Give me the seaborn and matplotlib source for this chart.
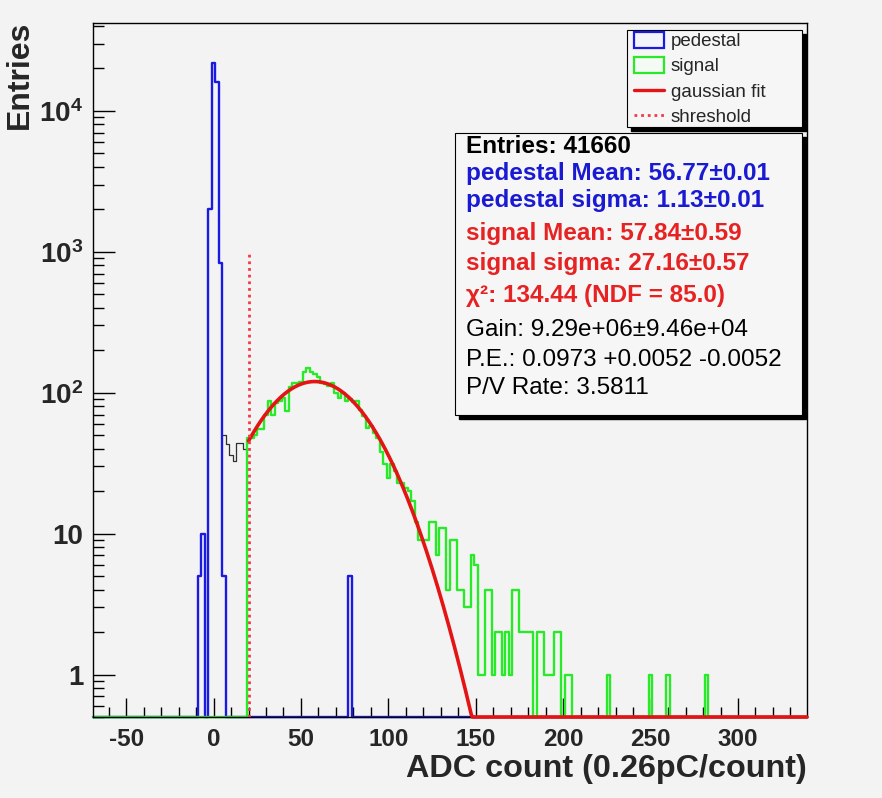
import numpy as np
import seaborn as sns
import matplotlib.pyplot as plt
from matplotlib.patches import Patch, Rectangle
from matplotlib.lines import Line2D
from matplotlib.ticker import MultipleLocator, LogLocator, NullFormatter

# ---- values (x = ADC count, pedestal subtracted) ----
bin_width = 2
x_lo, x_hi = -69, 339
y_floor, y_top = 0.5, 42000

# pedestal histogram (blue): lower bin edge -> entries
pedestal_start = [-9, -7, -3, -1, 1, 3, 5, 77]
pedestal_counts = [5, 10, 2000, 22000, 16000, 830, 5, 5]

# total spectrum in the valley between pedestal and threshold (thin black)
valley_start = [5, 7, 9, 11, 13, 15, 17]
valley_counts = [50, 43, 36, 33, 44, 44, 40]

# signal histogram (green): contiguous bins starting at 19, then a few lone tail entries
signal_first = 19
signal_counts = [48, 48, 50, 55, 55, 70, 88, 70, 85, 88, 92, 74, 110, 117, 118, 120,
                 140, 150, 140, 136, 130, 118, 116, 112, 118, 100, 92, 100, 88, 90, 86,
                 88, 75, 68, 56, 58, 52, 48, 38, 31, 25, 31, 28, 23, 23, 21, 20, 17,
                 12, 9, 9, 9, 12, 12, 7, 11, 11, 4, 9, 9, 4, 4, 3, 3, 7, 6, 1, 1, 4,
                 4, 1, 2, 2, 1, 2, 1, 4, 4, 2, 2, 2, 2, 0, 2, 2, 1, 1, 1, 2, 2, 0, 1, 1]
signal_tail_start = [225, 249, 259, 281]
signal_tail_counts = [1, 1, 1, 1]

# gaussian fit of the signal and the threshold cut
fit_amp, fit_mean, fit_sigma = 120, 57.84, 27.16
threshold, threshold_top = 20, 1000

y_ticks = [1, 10, 100, 1000, 10000]
y_tick_labels = ["1", "10", r"$\mathbf{10^{2}}$", r"$\mathbf{10^{3}}$", r"$\mathbf{10^{4}}$"]

legend_labels = ["pedestal", "signal", "gaussian fit", "shreshold"]
stats_lines = [
    ("Entries: 41660", "black", "bold"),
    ("pedestal Mean: 56.77±0.01", "#1a1ad2", "bold"),
    ("pedestal sigma: 1.13±0.01", "#1a1ad2", "bold"),
    ("signal Mean: 57.84±0.59", "#e62222", "bold"),
    ("signal sigma: 27.16±0.57", "#e62222", "bold"),
    ("χ²: 134.44 (NDF = 85.0)", "#e62222", "bold"),
    ("Gain: 9.29e+06±9.46e+04", "black", "normal"),
    ("P.E.: 0.0973 +0.0052 -0.0052", "black", "normal"),
    ("P/V Rate: 3.5811", "black", "normal"),
]

BLUE, GREEN, RED, BG = "#1a1ae0", "#28ea28", "#e41414", "#f3f3f3"

edges = np.arange(x_lo, x_hi + bin_width, bin_width)
centers = edges[:-1] + bin_width / 2


def full_hist(starts, counts):
    h = np.zeros(len(centers))
    idx = ((np.asarray(starts) - x_lo) // bin_width).astype(int)
    h[idx] = counts
    return h


def shadow_box(x0, y0, w, h, z):
    # ROOT-style pave: black drop shadow to the lower right, then the box itself
    ax.add_patch(Rectangle((x0 + 0.006, y0 - 0.006), w, h, transform=ax.transAxes,
                           facecolor="black", edgecolor="black", zorder=z))
    ax.add_patch(Rectangle((x0, y0), w, h, transform=ax.transAxes,
                           facecolor="#f6f6f6", edgecolor="black", linewidth=0.8, zorder=z + 0.1))


pedestal = full_hist(pedestal_start, pedestal_counts)
signal = full_hist(list(range(signal_first, signal_first + bin_width * len(signal_counts), bin_width))
                   + signal_tail_start, signal_counts + signal_tail_counts)

sns.set_style("ticks")
plt.rcParams["font.family"] = ["Liberation Sans", "DejaVu Sans"]
plt.rcParams["axes.unicode_minus"] = False
plt.rcParams["mathtext.fontset"] = "custom"
plt.rcParams["mathtext.rm"] = "Liberation Sans"
plt.rcParams["mathtext.bf"] = "Liberation Sans:bold"

fig = plt.figure(figsize=(8.82, 7.98), dpi=100, facecolor=BG)
ax = fig.add_axes([0.1054, 0.1015, 0.8096, 0.8697])
ax.set_facecolor(BG)

# empty bins are drawn along the frame bottom, like ROOT does on a log axis
valley_edges = valley_start + [valley_start[-1] + bin_width]
sns.histplot(x=np.array(valley_start) + bin_width / 2, weights=valley_counts, bins=valley_edges,
             element="step", fill=False, color="#303030", linewidth=0.9, ax=ax)
sns.histplot(x=centers, weights=np.maximum(pedestal, y_floor), bins=edges.tolist(), element="step",
             fill=False, color=BLUE, linewidth=1.7, ax=ax, clip_on=False)
sns.histplot(x=centers, weights=np.maximum(signal, y_floor), bins=edges.tolist(), element="step",
             fill=False, color=GREEN, linewidth=1.7, ax=ax, clip_on=False)

fit_x = np.linspace(threshold, 339.5, 500)
fit_y = fit_amp * np.exp(-0.5 * ((fit_x - fit_mean) / fit_sigma) ** 2)
sns.lineplot(x=fit_x, y=np.maximum(fit_y, y_floor), color=RED, linewidth=2.6, ax=ax,
             clip_on=False, zorder=4)
ax.vlines(threshold, y_floor, threshold_top, colors="#f03c46", linestyles=(0, (1, 1.4)),
          linewidth=2, zorder=4.5)

ax.set_yscale("log")
ax.set_xlim(-69, 339.5)
ax.set_ylim(y_floor, y_top)

ax.xaxis.set_major_locator(MultipleLocator(50))
ax.xaxis.set_minor_locator(MultipleLocator(10))
ax.set_yticks(y_ticks)
ax.set_yticklabels(y_tick_labels)
ax.yaxis.set_minor_locator(LogLocator(base=10, subs=np.arange(2, 10)))
ax.yaxis.set_minor_formatter(NullFormatter())
ax.tick_params(which="both", direction="in", top=False, right=False, width=1, color="black")
ax.tick_params(axis="x", which="major", length=14, pad=8, labelsize=17.5)
ax.tick_params(axis="x", which="minor", length=7)
ax.tick_params(axis="y", which="major", length=16, pad=7, labelsize=20)
ax.tick_params(axis="y", which="minor", length=8)
for lab in ax.get_xticklabels() + ax.get_yticklabels():
    lab.set_fontweight("bold")
for sp in ax.spines.values():
    sp.set_visible(True)
    sp.set_color("black")
    sp.set_linewidth(1)

ax.set_xlabel("ADC count (0.26pC/count)", fontsize=23.3, fontweight="bold", loc="right", labelpad=2)
ax.set_ylabel("Entries", fontsize=23, fontweight="bold", loc="top")
ax.yaxis.set_label_coords(-0.081, 1.004)

# legend pave
shadow_box(0.748, 0.850, 0.245, 0.14, 5.0)
handles = [
    Patch(facecolor="#f4f4fb", edgecolor=BLUE, linewidth=1.6),
    Patch(facecolor="#f4fbf4", edgecolor=GREEN, linewidth=1.6),
    Line2D([], [], color=RED, linewidth=2.4),
    Line2D([], [], color="#f03c46", linewidth=2, linestyle=(0, (1, 1.4))),
]
leg = ax.legend(handles, legend_labels, loc="upper left", bbox_to_anchor=(0.757, 0.987),
                fontsize=13.5, frameon=False, handlelength=1.65, handleheight=0.9,
                handletextpad=0.35, labelspacing=0.37, borderpad=0, borderaxespad=0)
leg.set_zorder(5.5)

# statistics pave
shadow_box(0.507, 0.435, 0.486, 0.4065, 6.0)
line_y = [0.822, 0.783, 0.744, 0.697, 0.654, 0.608, 0.558, 0.514, 0.474]
for (txt, col, wt), yy in zip(stats_lines, line_y):
    ax.text(0.522, yy, txt, transform=ax.transAxes, color=col, fontweight=wt, fontsize=17.5,
            va="center", ha="left", zorder=7)

fig.savefig("out.png", dpi=100, facecolor=BG)
